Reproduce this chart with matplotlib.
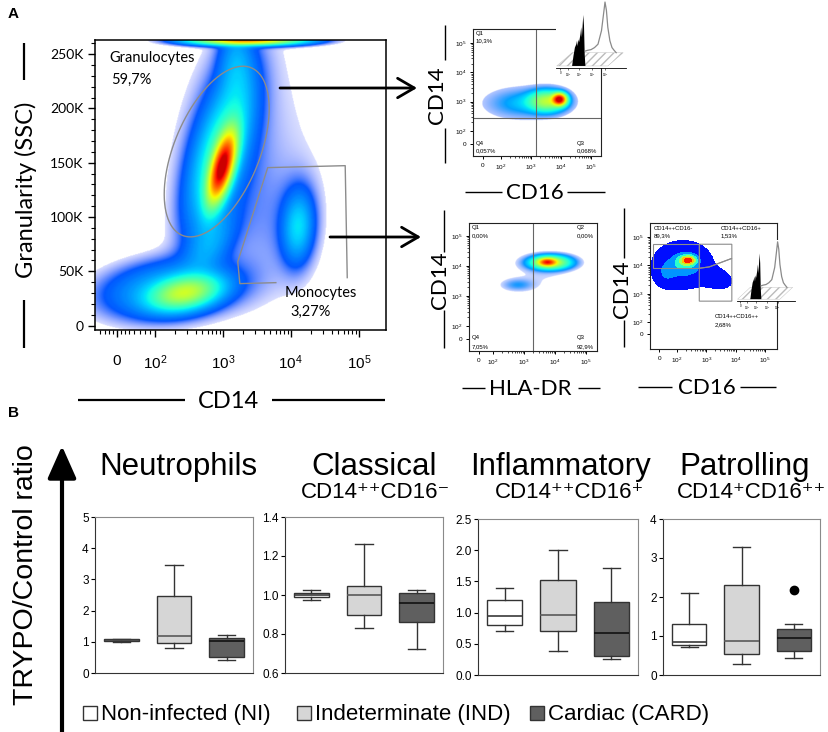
import numpy as np
import matplotlib
matplotlib.use('Agg')
import matplotlib.pyplot as plt
from matplotlib.colors import LinearSegmentedColormap, PowerNorm
from matplotlib.patches import Polygon, Rectangle

plt.rcParams['font.family'] = ['Liberation Sans', 'DejaVu Sans']
plt.rcParams['mathtext.fontset'] = 'custom'
plt.rcParams['mathtext.rm'] = 'Liberation Sans'
plt.rcParams['mathtext.it'] = 'Liberation Sans:italic'
plt.rcParams['mathtext.bf'] = 'Liberation Sans:bold'

W, H = 829, 732

# ---------------- panel B: box statistics ----------------
groups = ['Non-infected (NI)', 'Indeterminate (IND)', 'Cardiac (CARD)']
box_fill = ['#ffffff', '#d6d6d6', '#5f5f5f']
box_median = ['#3a3a3a', '#5a5a5a', '#111111']

cell_types = ['Neutrophils', 'Classical', 'Inflammatory', 'Patrolling']
subsets = ['', 'CD14⁺⁺CD16⁻', 'CD14⁺⁺CD16⁺', 'CD14⁺CD16⁺⁺']

# whislo, q1, median, q3, whishi  (NI, IND, CARD)
neutrophils = [[1.00, 1.02, 1.05, 1.08, 1.10],
               [0.80, 0.97, 1.19, 2.47, 3.45],
               [0.43, 0.51, 1.02, 1.12, 1.23]]
classical = [[0.974, 0.988, 1.000, 1.012, 1.026],
             [0.830, 0.898, 1.000, 1.046, 1.261],
             [0.723, 0.863, 0.961, 1.009, 1.026]]
inflammatory = [[0.70, 0.80, 0.94, 1.20, 1.39],
                [0.38, 0.70, 0.96, 1.53, 2.00],
                [0.26, 0.31, 0.68, 1.165, 1.71]]
patrolling = [[0.72, 0.77, 0.85, 1.31, 2.09],
              [0.27, 0.55, 0.88, 2.30, 3.27],
              [0.43, 0.62, 0.96, 1.17, 1.31]]
outliers = [[[], [], []], [[], [], []], [[], [], []], [[], [], [2.17]]]
ratio_ticks = [[0, 1, 2, 3, 4, 5],
               [0.6, 0.8, 1.0, 1.2, 1.4],
               [0.0, 0.5, 1.0, 1.5, 2.0, 2.5],
               [0, 1, 2, 3, 4]]
ratio_labels = [['0', '1', '2', '3', '4', '5'],
                ['0.6', '0.8', '1.0', '1.2', '1.4'],
                ['0.0', '0.5', '1.0', '1.5', '2.0', '2.5'],
                ['0', '1', '2', '3', '4']]

# ---------------- panel A: flow cytometry populations ----------------
ssc_ticks = [0, 50, 100, 150, 200, 250]
ssc_labels = ['0', '50K', '100K', '150K', '200K', '250K']
decade_labels = ['0', r'$10^2$', r'$10^3$', r'$10^4$', r'$10^5$']

# population: log10 position x, y, spread x, spread y, correlation, relative density
ssc_cd14_pops = [
    (2.99, 146, 0.12, 19, 0.60, 1.00),   # granulocytes
    (2.96, 160, 0.25, 36, 0.60, 0.12),
    (2.98, 165, 0.36, 55, 0.50, 0.03),
    (3.20, 240, 0.15, 25, 0.00, 0.04),
    (2.44, 30, 0.29, 9, 0.30, 0.30),     # lymphocytes
    (2.22, 33, 0.59, 16, 0.20, 0.06),
    (4.11, 91, 0.12, 17, 0.10, 0.06),    # monocytes
    (4.11, 92, 0.19, 27, 0.10, 0.02),
    (2.81, 75, 0.22, 18, 0.50, 0.04),
    (3.40, 170, 0.75, 75, 0.00, 0.005),
    (3.55, 95, 0.45, 45, 0.00, 0.006),
    (3.35, 263, 0.45, 2.5, 0.00, 0.60),  # saturated events
]
gran_cd16_pops = [
    (3.95, 3.08, 0.14, 0.12, 0.0, 1.00),
    (3.55, 3.02, 0.38, 0.22, 0.0, 0.30),
    (2.70, 2.95, 0.70, 0.30, 0.0, 0.06),
]
mono_hla_pops = [
    (3.85, 4.12, 0.40, 0.14, 0.0, 0.35),
    (3.75, 4.13, 0.18, 0.08, 0.0, 0.60),
    (2.80, 3.37, 0.33, 0.13, 0.0, 0.035),
    (3.50, 3.75, 0.60, 0.35, 0.0, 0.010),
]
mono_cd16_pops = [
    (2.20, 4.02, 0.55, 0.45, 0.0, 0.60),
    (2.40, 4.20, 0.22, 0.13, 0.0, 0.55),
    (3.30, 3.55, 0.35, 0.22, -0.3, 0.35),
    (1.60, 3.70, 0.22, 0.28, 0.0, 0.25),
]
# gates
gran_gate = (2.91, 160.3, 0.22, 0.74, 76.4, 18.4)
mono_gate_x = [3.78, 3.25, 3.22, 3.66, 4.80, 4.83]
mono_gate_y = [39.6, 38.7, 58.9, 145.5, 147.3, 44.2]
classical_gate = [(1.19, 4.75), (2.76, 4.75), (2.76, 3.90), (1.19, 3.90)]
intermediate_gate = [(2.76, 4.75), (3.87, 4.75), (3.87, 4.25), (3.10, 3.95), (2.76, 3.90)]
nonclassical_gate = [(2.76, 3.90), (3.10, 3.95), (3.87, 4.25), (3.87, 2.74), (2.76, 2.74)]

# CD16 histograms (inset): negative (filled) and positive (outline)
neg_x = [0.23, 0.25, 0.27, 0.29, 0.30, 0.31, 0.32, 0.33, 0.35, 0.36, 0.37, 0.38, 0.39, 0.40, 0.41, 0.42]
neg_h = [0.03, 0.18, 0.30, 0.35, 0.40, 0.32, 0.42, 0.38, 0.50, 0.60, 0.45, 0.62, 0.78, 0.62, 0.20, 0.03]
pos_x = [0.42, 0.45, 0.50, 0.55, 0.60, 0.65, 0.68, 0.70, 0.72, 0.74, 0.77, 0.80, 0.83, 0.86]
pos_h = [0.25, 0.26, 0.27, 0.30, 0.35, 0.55, 0.80, 0.97, 0.85, 0.60, 0.40, 0.30, 0.26, 0.225]

flow_cmap = LinearSegmentedColormap.from_list('flow', plt.cm.jet(np.linspace(0.11, 0.93, 256)))

fig = plt.figure(figsize=(W / 100, H / 100), dpi=100)


def px_axes(l, t, r, b, z=1):
    return fig.add_axes([l / W, 1 - b / H, (r - l) / W, (b - t) / H], zorder=z)


def density(xx, yy, pops):
    d = np.zeros_like(xx)
    for x0, y0, sx, sy, rho, amp in pops:
        u = (xx - x0) / sx
        v = (yy - y0) / sy
        d += amp * np.exp(-(u * u - 2 * rho * u * v + v * v) / (2 * (1 - rho * rho)))
    return d


def grid(xlim, ylim, n=420):
    return np.meshgrid(np.linspace(xlim[0], xlim[1], n), np.linspace(ylim[0], ylim[1], n))


def draw_density(ax, pops, xlim, ylim, floor, alpha_floor):
    xx, yy = grid(xlim, ylim)
    d = density(xx, yy, pops)
    rgba = flow_cmap(PowerNorm(0.5, vmin=0, vmax=1, clip=True)(d))
    a = alpha_floor + (1 - alpha_floor) * (d - floor) / (3.5 * floor)
    rgba[..., 3] = np.where(d < floor, 0, np.clip(a, 0, 1))
    ax.imshow(rgba, extent=(xlim[0], xlim[1], ylim[0], ylim[1]), origin='lower',
              aspect='auto', interpolation='bilinear')


def log_minor(lo=2, hi=5):
    return [np.log10(k) + e for e in range(lo, hi) for k in range(2, 10)]


def style_small(ax, xlim, ylim, x0, y0):
    ax.set_xlim(xlim)
    ax.set_ylim(ylim)
    ax.set_xticks([x0, 2, 3, 4, 5])
    ax.set_xticklabels(decade_labels, fontsize=4.6)
    ax.set_yticks([y0, 2, 3, 4, 5])
    ax.set_yticklabels(decade_labels, fontsize=4.6)
    ax.set_xticks(log_minor(), minor=True)
    ax.set_yticks(log_minor(), minor=True)
    ax.tick_params(which='major', length=2.5, width=0.7, pad=2.5)
    ax.tick_params(which='minor', length=1.5, width=0.5)
    for s in ax.spines.values():
        s.set_linewidth(0.8)
        s.set_color('#222222')


def draw_hist_inset(l, t, r, b):
    ax = px_axes(l, t, r, b, z=5)
    ax.set_xlim(0, 1)
    ax.set_ylim(0, 1)
    ax.add_patch(Polygon([(0.01, 0.03), (0.23, 0.225), (0.96, 0.225), (0.74, 0.03)],
                         closed=True, facecolor='white', edgecolor='#bbbbbb',
                         hatch='////', lw=0.3))
    ax.plot(pos_x, pos_h, color='#8a8a8a', lw=0.9)
    ax.fill(neg_x, neg_h, color='black', lw=0)
    for s in ['top', 'right', 'left']:
        ax.spines[s].set_visible(False)
    ax.spines['bottom'].set_linewidth(0.6)
    ax.set_yticks([])
    ax.set_xticks([0.06, 0.17, 0.33, 0.52, 0.70])
    ax.set_xticklabels(['0', r'$10^2$', r'$10^3$', r'$10^4$', r'$10^5$'], fontsize=2.2)
    ax.tick_params(axis='x', length=1.5, width=0.4, pad=1)
    return ax


# ---------------- main SSC vs CD14 plot ----------------
ax = px_axes(95, 40, 386, 330)
xlim, ylim = (1.12, 5.40), (-4, 263)
draw_density(ax, ssc_cd14_pops, xlim, ylim, floor=0.0035, alpha_floor=0.15)
ax.set_xlim(xlim)
ax.set_ylim(ylim)
ax.set_yticks(ssc_ticks)
ax.set_yticklabels(ssc_labels, fontsize=10, fontfamily='Lato')
ax.set_yticks(np.arange(0, 261, 10), minor=True)
ax.set_xticks([1.44, 2, 3, 4, 5])
ax.set_xticklabels(['0', r'$10^2$', r'$10^3$', r'$10^4$', r'$10^5$'], fontsize=11)
ax.set_xticks([1.2, 1.26, 1.32, 1.38, 1.5, 1.56, 1.62, 1.7, 1.78, 1.86, 1.93] + log_minor(), minor=True)
ax.tick_params(which='major', length=5, width=1)
ax.tick_params(which='minor', length=3, width=0.8)
ax.tick_params(axis='x', which='major', pad=12)
for s in ax.spines.values():
    s.set_linewidth(1.1)
t = np.linspace(0, 2 * np.pi, 200)
gx, gy, ga, gb, gc, gd = gran_gate
ax.plot(gx + ga * np.cos(t) + gb * np.sin(t), gy + gc * np.cos(t) + gd * np.sin(t),
        color='#8c8c8c', lw=1)
ax.plot(mono_gate_x, mono_gate_y, color='#8c8c8c', lw=1)
ax.text(0.05, 0.925, 'Granulocytes', transform=ax.transAxes, fontsize=10.5, fontfamily='Lato')
ax.text(0.055, 0.85, '59,7%', transform=ax.transAxes, fontsize=10.5, fontfamily='Lato')
ax.text(0.65, 0.115, 'Monocytes', transform=ax.transAxes, fontsize=10.5, fontfamily='Lato')
ax.text(0.67, 0.05, '3,27%', transform=ax.transAxes, fontsize=10.5, fontfamily='Lato')

# ---------------- granulocytes CD14 vs CD16 ----------------
ax = px_axes(473, 29, 601, 156)
xlim, ylim = (1.07, 5.33), (1.15, 5.48)
draw_density(ax, gran_cd16_pops, xlim, ylim, floor=0.01, alpha_floor=0.3)
style_small(ax, xlim, ylim, 1.4, 1.56)
ax.axvline(3.17, color='#666666', lw=0.8)
ax.axhline(2.44, color='#666666', lw=0.8)
draw_hist_inset(556, 0, 626, 68)

# ---------------- monocytes CD14 vs HLA-DR ----------------
ax = px_axes(469, 223, 597, 351)
xlim, ylim = (1.23, 5.35), (1.17, 5.43)
draw_density(ax, mono_hla_pops, xlim, ylim, floor=0.009, alpha_floor=0.2)
style_small(ax, xlim, ylim, 1.55, 1.57)
ax.axvline(3.29, color='#666666', lw=0.8)

# ---------------- monocytes CD14 vs CD16 ----------------
ax = px_axes(650, 223, 777, 349)
xlim, ylim = (1.08, 5.41), (1.05, 5.5)
xx, yy = grid(xlim, ylim)
d = density(xx, yy, mono_cd16_pops)
d = d / d.max()
ax.contourf(xx, yy, d, levels=[0.09, 0.4, 0.56, 0.7, 0.82, 0.92, 1.01],
            colors=[plt.cm.jet(v) for v in (0.14, 0.27, 0.4, 0.55, 0.7, 0.88)])
style_small(ax, xlim, ylim, 1.39, 1.57)
for g in (classical_gate, intermediate_gate, nonclassical_gate):
    ax.add_patch(Polygon(g, closed=True, fill=False, edgecolor='#8c8c8c', lw=0.8))
draw_hist_inset(737, 240, 795, 301)

# ---------------- panel B box plots ----------------
box_px = [(95, 517, 253, 673), (285, 517, 443, 673), (478, 519, 638, 675), (663, 519, 820, 675)]
all_stats = [neutrophils, classical, inflammatory, patrolling]
for i, (l, tp, r, b) in enumerate(box_px):
    ax = px_axes(l, tp, r, b)
    stats = [dict(whislo=s[0], q1=s[1], med=s[2], q3=s[3], whishi=s[4], fliers=outliers[i][j])
             for j, s in enumerate(all_stats[i])]
    bp = ax.bxp(stats, positions=[1, 2, 3], widths=0.66, patch_artist=True, showfliers=True,
                boxprops=dict(edgecolor='#333333', lw=1),
                whiskerprops=dict(color='#333333', lw=1),
                capprops=dict(color='#333333', lw=1),
                flierprops=dict(marker='o', markerfacecolor='black', markeredgecolor='black',
                                markersize=6))
    for j, patch in enumerate(bp['boxes']):
        patch.set_facecolor(box_fill[j])
        bp['medians'][j].set_color(box_median[j])
        bp['medians'][j].set_linewidth(1.2)
    ax.set_xlim(0.5, 3.5)
    ax.set_ylim(ratio_ticks[i][0], ratio_ticks[i][-1])
    ax.set_yticks(ratio_ticks[i])
    ax.set_yticklabels(ratio_labels[i], fontsize=8.5)
    ax.set_xticks([])
    ax.tick_params(axis='y', length=3, width=0.8, pad=1.5)
    for s in ['top', 'right']:
        ax.spines[s].set_color('#8a8a8a')
    for s in ['left', 'bottom']:
        ax.spines[s].set_color('#333333')

# ---------------- overlay: labels, lines, arrows ----------------
ov = px_axes(0, 0, W, H, z=20)
ov.set_xlim(0, W)
ov.set_ylim(H, 0)
ov.axis('off')


def seg(x0, y0, x1, y1, lw=1.6):
    ov.plot([x0, x1], [y0, y1], color='black', lw=lw, solid_capstyle='butt')


ov.text(8, 14, 'A', fontsize=11, fontweight='bold', va='center')
ov.text(8, 413, 'B', fontsize=11, fontweight='bold', va='center')

# main plot axis labels
ov.text(26, 190, 'Granularity (SSC)', rotation=90, fontsize=17, fontfamily='Lato',
        ha='center', va='center')
seg(24, 43, 24, 80)
seg(24, 300, 24, 348)
ov.text(228, 402, 'CD14', fontsize=17, fontfamily='Lato', ha='center', va='center')
seg(78, 400, 185, 400)
seg(272, 400, 385, 400)

# small plot axis labels
ov.text(437, 95, 'CD14', rotation=90, fontsize=16, fontfamily='Lato', ha='center', va='center')
seg(445, 25, 445, 60, 1)
seg(445, 128, 445, 163, 1)
ov.text(535, 193, 'CD16', fontsize=16, fontfamily='Lato', ha='center', va='center')
seg(465, 192, 502, 192, 1)
seg(567, 192, 605, 192, 1)

ov.text(440, 280, 'CD14', rotation=90, fontsize=16, fontfamily='Lato', ha='center', va='center')
seg(444, 210, 444, 252, 1)
seg(444, 310, 444, 348, 1)
ov.text(530, 389, 'HLA-DR', fontsize=16, fontfamily='Lato', ha='center', va='center')
seg(462, 388, 485, 388, 1)
seg(578, 388, 600, 388, 1)

ov.text(622, 289, 'CD14', rotation=90, fontsize=16, fontfamily='Lato', ha='center', va='center')
seg(624, 208, 624, 258, 1)
seg(624, 320, 624, 347, 1)
ov.text(707, 388, 'CD16', fontsize=16, fontfamily='Lato', ha='center', va='center')
seg(638, 387, 672, 387, 1)
seg(740, 387, 776, 387, 1)

# quadrant / gate statistics
small = dict(fontsize=4.3, va='center')
for x, y, s in [(476, 33, 'Q1'), (476, 41, '10,3%'), (476, 143, 'Q4'), (476, 151, '0,057%'),
                (577, 143, 'Q3'), (577, 151, '0,068%'),
                (472, 227, 'Q1'), (472, 236, '0,00%'), (577, 227, 'Q2'), (577, 236, '0,00%'),
                (472, 338, 'Q4'), (472, 347, '7,05%'), (577, 338, 'Q3'), (577, 347, '92,9%'),
                (654, 228, 'CD14++CD16-'), (654, 236, '89,3%'),
                (721, 228, 'CD14++CD16+'), (721, 236, '1,53%'),
                (715, 317, 'CD14++CD16++'), (715, 325, '2,68%')]:
    ov.text(x, y, s, **small)

# arrows from gates
ov.annotate('', xy=(417, 88), xytext=(280, 88),
            arrowprops=dict(arrowstyle='->,head_length=0.6,head_width=0.35', lw=2, color='black',
                            mutation_scale=20, shrinkA=0, shrinkB=0))
ov.annotate('', xy=(421, 237), xytext=(330, 237),
            arrowprops=dict(arrowstyle='->,head_length=0.6,head_width=0.35', lw=2, color='black',
                            mutation_scale=20, shrinkA=0, shrinkB=0))

# panel B labels
ov.annotate('', xy=(62, 446), xytext=(62, 735),
            arrowprops=dict(arrowstyle='-|>,head_length=0.9,head_width=0.4', lw=3, color='black',
                            mutation_scale=22, shrinkA=0, shrinkB=0))
ov.text(26, 575, 'TRYPO/Control ratio', rotation=90, fontsize=20.5, ha='center', va='center')
title_x = [178, 374, 561, 745]
sub_x = [178, 376, 570, 752]
for i in range(4):
    ov.text(title_x[i], 475, cell_types[i], fontsize=22.5, ha='center', va='baseline')
    if subsets[i]:
        ov.text(sub_x[i], 498, subsets[i], fontsize=16, ha='center', va='baseline',
                family=['Liberation Sans', 'DejaVu Sans'])

# legend
leg_sq = [83, 297, 530]
for j in range(3):
    ov.add_patch(Rectangle((leg_sq[j], 706), 14, 14, facecolor=box_fill[j],
                           edgecolor='#333333', lw=1))
    ov.text(leg_sq[j] + 18, 720, groups[j], fontsize=16, va='baseline')

fig.savefig('out.png', dpi=100)
